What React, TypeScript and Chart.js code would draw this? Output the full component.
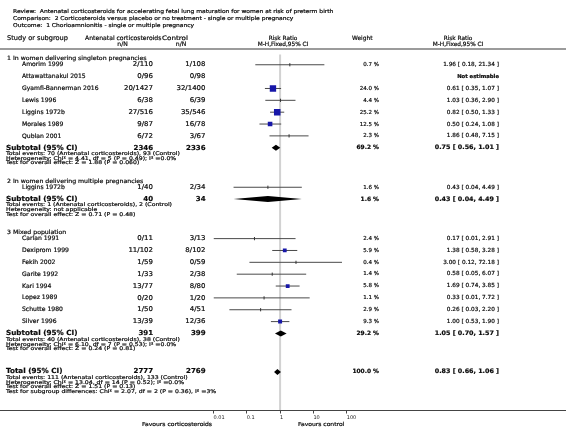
import React, { useEffect, useRef } from 'react';
import { Chart, registerables } from 'chart.js';

Chart.register(...registerables);

// ---------------- data ----------------
const titleLines = [
  'Review:  Antenatal corticosteroids for accelerating fetal lung maturation for women at risk of preterm birth',
  'Comparison:  2 Corticosteroids versus placebo or no treatment - single or multiple pregnancy',
  'Outcome:  1 Chorioamnionitis - single or multiple pregnancy',
];

const groupTitles = [
  '1 In women delivering singleton pregnancies',
  '2 In women delivering multiple pregnancies',
  '3 Mixed population',
];

const studyNames = [
  'Amorim 1999', 'Attawattanakul 2015', 'Gyamfi-Bannerman 2016', 'Lewis 1996', 'Liggins 1972b',
  'Morales 1989', 'Qublan 2001',
  'Liggins 1972b',
  'Carlan 1991', 'Dexiprom 1999', 'Fekih 2002', 'Garite 1992', 'Kari 1994', 'Lopez 1989',
  'Schutte 1980', 'Silver 1996',
];
const studyGroup = [0, 0, 0, 0, 0, 0, 0, 1, 2, 2, 2, 2, 2, 2, 2, 2];
const expEvents = [2, 0, 20, 6, 27, 9, 6, 1, 0, 11, 1, 1, 13, 0, 1, 13];
const expTotal = [110, 96, 1427, 38, 516, 87, 72, 40, 11, 102, 59, 33, 77, 20, 50, 39];
const ctrlEvents = [1, 0, 32, 6, 35, 16, 3, 2, 3, 8, 0, 2, 8, 1, 4, 12];
const ctrlTotal = [108, 98, 1400, 39, 546, 78, 67, 34, 13, 102, 59, 38, 80, 20, 51, 36];
const weights = [0.7, null, 24.0, 4.4, 25.2, 12.5, 2.3, 1.6, 2.4, 5.9, 0.4, 1.4, 5.8, 1.1, 2.9, 9.3];
const riskRatios = [1.96, null, 0.61, 1.03, 0.82, 0.5, 1.86, 0.43, 0.17, 1.38, 3.0, 0.58, 1.69, 0.33, 0.26, 1.0];
const ciLow = [0.18, null, 0.35, 0.36, 0.5, 0.24, 0.48, 0.04, 0.01, 0.58, 0.12, 0.05, 0.74, 0.01, 0.03, 0.53];
const ciHigh = [21.34, null, 1.07, 2.9, 1.33, 1.08, 7.15, 4.49, 2.91, 3.28, 72.18, 6.07, 3.85, 7.72, 2.2, 1.9];

const subtotalExpN = [2346, 40, 391];
const subtotalCtrlN = [2336, 34, 399];
const subtotalWeight = [69.2, 1.6, 29.2];
const subtotalRR = [0.75, 0.43, 1.05];
const subtotalLow = [0.56, 0.04, 0.7];
const subtotalHigh = [1.01, 4.49, 1.57];
const subtotalNotes = [
  [
    'Total events: 70 (Antenatal corticosteroids), 93 (Control)',
    'Heterogeneity: Chi\u00B2 = 4.41, df = 5 (P = 0.49); I\u00B2 =0.0%',
    'Test for overall effect: Z = 1.88 (P = 0.060)',
  ],
  [
    'Total events: 1 (Antenatal corticosteroids), 2 (Control)',
    'Heterogeneity: not applicable',
    'Test for overall effect: Z = 0.71 (P = 0.48)',
  ],
  [
    'Total events: 40 (Antenatal corticosteroids), 38 (Control)',
    'Heterogeneity: Chi\u00B2 = 6.10, df = 7 (P = 0.53); I\u00B2 =0.0%',
    'Test for overall effect: Z = 0.24 (P = 0.81)',
  ],
];

const totalExpN = 2777;
const totalCtrlN = 2769;
const totalWeight = 100.0;
const totalRR = 0.83;
const totalLow = 0.66;
const totalHigh = 1.06;
const totalNotes = [
  'Total events: 111 (Antenatal corticosteroids), 133 (Control)',
  'Heterogeneity: Chi\u00B2 = 13.04, df = 14 (P = 0.52); I\u00B2 =0.0%',
  'Test for overall effect: Z = 1.51 (P = 0.13)',
  'Test for subgroup differences: Chi\u00B2 = 2.07, df = 2 (P = 0.36), I\u00B2 =3%',
];

const axisTicks = [0.01, 0.1, 1, 10, 100];
const axisTickLabels = ['0.01', '0.1', '1', '10', '100'];
const favoursLeft = 'Favours corticosteroids';
const favoursRight = 'Favours control';

// ---------------- layout (pixel units of the y scale) ----------------
const LAYOUT = {
  firstGroup: 54.3,
  headToStudy: 6,
  studyStep: 12.05,
  studyToSub: 12,
  subToNote: 6.2,
  noteStep: 4.65,
  notesToGroup: 18.3,
  notesToTotal: 23,
  yMax: 410.5,
  headerLine: 49,
  refTop: 50,
};

const crisp = (v: number) => Math.floor(v) + 0.5;

function computeRows() {
  const studyY: number[] = [];
  const groupY: number[] = [];
  const subY: number[] = [];
  const subNoteY: number[][] = [];
  let y = LAYOUT.firstGroup;
  for (let g = 0; g < groupTitles.length; g++) {
    groupY.push(y);
    y += LAYOUT.headToStudy;
    let last = y;
    studyNames.forEach((_, i) => {
      if (studyGroup[i] === g) {
        studyY[i] = y;
        last = y;
        y += LAYOUT.studyStep;
      }
    });
    const s = last + LAYOUT.studyToSub;
    subY.push(s);
    let n = s + LAYOUT.subToNote;
    const notes: number[] = [];
    subtotalNotes[g].forEach(() => {
      notes.push(n);
      n += LAYOUT.noteStep;
    });
    subNoteY.push(notes);
    const lastNote = notes[notes.length - 1];
    y = lastNote + LAYOUT.notesToGroup;
  }
  const lastNote = subNoteY[subNoteY.length - 1][subNoteY[subNoteY.length - 1].length - 1];
  const totY = lastNote + LAYOUT.notesToTotal;
  const totNoteY = totalNotes.map((_, i) => totY + LAYOUT.subToNote + i * LAYOUT.noteStep);
  return { studyY, groupY, subY, subNoteY, totY, totNoteY };
}

const FONT = '"DejaVu Sans", Verdana, sans-serif';
const TEXT = '#0a0a0a';

const fmtRR = (v: number, l: number, h: number) => `${v.toFixed(2)} [ ${l.toFixed(2)}, ${h.toFixed(2)} ]`;
const fmtW = (w: number) => `${w.toFixed(1)} %`;

export default function App() {
  const ref = useRef<HTMLCanvasElement>(null);

  useEffect(() => {
    const rows = computeRows();
    const studyIdx = studyNames.map((_, i) => i).filter((i) => riskRatios[i] !== null);

    const ciSets = studyIdx.map((i) => ({
      type: 'line' as const,
      data: [
        { x: ciLow[i] as number, y: crisp(rows.studyY[i]) },
        { x: ciHigh[i] as number, y: crisp(rows.studyY[i]) },
      ],
      borderColor: '#4a4a4a',
      borderWidth: 1,
      pointRadius: 0,
      order: 5,
    }));

    const pointW = studyIdx.map((i) => weights[i] as number);
    const big = (w: number) => w >= 5;

    const datasets: any[] = [
      {
        type: 'line',
        data: [
          { x: 1, y: LAYOUT.refTop },
          { x: 1, y: LAYOUT.yMax },
        ],
        borderColor: '#d2d2d2',
        borderWidth: 2,
        pointRadius: 0,
        order: 10,
      },
      ...ciSets,
      {
        type: 'scatter',
        data: studyIdx.map((i) => ({ x: riskRatios[i] as number, y: crisp(rows.studyY[i]) })),
        pointStyle: (c: any) => (big(pointW[c.dataIndex]) ? 'rect' : 'line'),
        rotation: (c: any) => (big(pointW[c.dataIndex]) ? 0 : 90),
        pointRadius: (c: any) => {
          const w = pointW[c.dataIndex];
          if (!big(w)) return 1.6;
          const side = Math.max(3.8, 1.3 * Math.sqrt(w));
          return side / Math.SQRT2;
        },
        backgroundColor: '#1717a8',
        borderColor: (c: any) => (big(pointW[c.dataIndex]) ? '#1717a8' : '#333'),
        borderWidth: (c: any) => (big(pointW[c.dataIndex]) ? 0 : 1),
        order: 1,
      },
    ];

    const diamonds = [
      ...subtotalRR.map((v, g) => ({ v, l: subtotalLow[g], h: subtotalHigh[g], y: rows.subY[g] })),
      { v: totalRR, l: totalLow, h: totalHigh, y: rows.totY },
    ];

    const forestPlugin = {
      id: 'forest',
      afterDatasetsDraw(chart: any) {
        const ctx = chart.ctx as CanvasRenderingContext2D;
        const xs = chart.scales.x;
        const ys = chart.scales.y;
        ctx.save();
        ctx.fillStyle = '#000';
        diamonds.forEach((d) => {
          const cy = ys.getPixelForValue(crisp(d.y));
          ctx.beginPath();
          ctx.moveTo(xs.getPixelForValue(d.l), cy);
          ctx.lineTo(xs.getPixelForValue(d.v), cy - 3);
          ctx.lineTo(xs.getPixelForValue(d.h), cy);
          ctx.lineTo(xs.getPixelForValue(d.v), cy + 3);
          ctx.closePath();
          ctx.fill();
        });
        ctx.restore();
      },
      afterDraw(chart: any) {
        const ctx = chart.ctx as CanvasRenderingContext2D;
        const ys = chart.scales.y;
        const W = chart.width;
        const Y = (v: number) => ys.getPixelForValue(v);
        ctx.save();
        // header rule and axis rule (full width)
        ctx.strokeStyle = '#7a7a7a';
        ctx.lineWidth = 1.5;
        ctx.beginPath();
        ctx.moveTo(0, LAYOUT.headerLine);
        ctx.lineTo(W, LAYOUT.headerLine);
        ctx.stroke();
        ctx.strokeStyle = '#444';
        ctx.lineWidth = 1;
        ctx.beginPath();
        ctx.moveTo(0, chart.chartArea.bottom);
        ctx.lineTo(W, chart.chartArea.bottom);
        ctx.stroke();

        ctx.textBaseline = 'middle';
        ctx.fillStyle = TEXT;
        ctx.strokeStyle = TEXT;
        const t = (
          s: string, x: number, y: number, size: number,
          align: CanvasTextAlign = 'left', bold = false, sx = 1,
        ) => {
          ctx.save();
          ctx.font = `${bold ? 'bold ' : ''}${size}px ${FONT}`;
          ctx.textAlign = align;
          ctx.translate(x, y);
          ctx.scale(sx, 1);
          ctx.fillText(s, 0, 0);
          ctx.lineWidth = 0.2;
          ctx.strokeText(s, 0, 0);
          ctx.restore();
        };

        titleLines.forEach((s, i) => t(s, 13, 12 + i * 7, 5.3, 'left', false, 1.13));
        t('Study or subgroup', 7, 38, 6.6);
        t('Antenatal corticosteroids', 85, 38, 6.1);
        t('Control', 162, 38, 6.1, 'left', false, 1.18);
        t('n/N', 122.5, 44.5, 6.1, 'center');
        t('n/N', 181, 44.5, 6.1, 'center');
        t('Risk Ratio', 283, 38, 5.8, 'center');
        t('M-H,Fixed,95% CI', 283, 44.5, 5.8, 'center');
        t('Weight', 352, 38, 5.9);
        t('Risk Ratio', 458, 38, 5.8, 'center');
        t('M-H,Fixed,95% CI', 458, 44.5, 5.8, 'center');

        groupTitles.forEach((s, g) => t(s, 7, Y(rows.groupY[g]), 5.8, 'left', false, 1.07));
        studyNames.forEach((s, i) => {
          const y = Y(rows.studyY[i]);
          t(s, 22, y, 6.1);
          t(`${expEvents[i]}/${expTotal[i]}`, 153, y, 6.6, 'right', false, 1.06);
          t(`${ctrlEvents[i]}/${ctrlTotal[i]}`, 205.5, y, 6.6, 'right', false, 1.06);
          if (riskRatios[i] === null) {
            t('Not estimable', 499, y, 5.3, 'right', true);
          } else {
            t(fmtW(weights[i] as number), 379, y, 5.5, 'right');
            t(fmtRR(riskRatios[i] as number, ciLow[i] as number, ciHigh[i] as number), 499, y, 5.6, 'right', false, 1.03);
          }
        });
        subtotalRR.forEach((v, g) => {
          const y = Y(rows.subY[g]);
          t('Subtotal (95% CI)', 6, y, 7.0, 'left', true, 1.03);
          t(String(subtotalExpN[g]), 153, y, 6.8, 'right', true, 1.03);
          t(String(subtotalCtrlN[g]), 205.5, y, 6.8, 'right', true, 1.03);
          t(fmtW(subtotalWeight[g]), 379, y, 5.9, 'right', true);
          t(fmtRR(v, subtotalLow[g], subtotalHigh[g]), 499, y, 6.2, 'right', true, 1.03);
          subtotalNotes[g].forEach((s, k) => t(s, 6, Y(rows.subNoteY[g][k]), 5.1, 'left', false, 1.21));
        });
        const ty = Y(rows.totY);
        t('Total (95% CI)', 6, ty, 7.0, 'left', true, 1.03);
        t(String(totalExpN), 153, ty, 6.8, 'right', true, 1.03);
        t(String(totalCtrlN), 205.5, ty, 6.8, 'right', true, 1.03);
        t(fmtW(totalWeight), 379, ty, 5.9, 'right', true);
        t(fmtRR(totalRR, totalLow, totalHigh), 499, ty, 6.2, 'right', true, 1.03);
        totalNotes.forEach((s, k) => t(s, 6, Y(rows.totNoteY[k]), 5.1, 'left', false, 1.21));

        const fy = chart.chartArea.bottom + 14.5;
        t(favoursLeft, chart.chartArea.left - 1.5, fy, 5.5, 'right', false, 1.1);
        t(favoursRight, 298, fy, 5.5, 'left', false, 1.1);
        ctx.restore();
      },
    };

    const chart = new Chart(ref.current as HTMLCanvasElement, {
      type: 'scatter',
      data: { datasets },
      options: {
        animation: false,
        responsive: false,
        devicePixelRatio: 1,
        layout: { padding: { left: 213.5, right: 219.3, top: 0, bottom: 0 } },
        plugins: { legend: { display: false }, tooltip: { enabled: false } },
        scales: {
          x: {
            type: 'logarithmic',
            min: 0.01,
            max: 100,
            afterBuildTicks: (s: any) => {
              s.ticks = axisTicks.map((v) => ({ value: v }));
            },
            afterFit: (s: any) => {
              s.height = 431 - LAYOUT.yMax;
            },
            border: { display: false },
            grid: { drawOnChartArea: false, drawTicks: true, tickLength: 3, color: '#444', lineWidth: 1 },
            ticks: {
              autoSkip: false,
              maxRotation: 0,
              align: 'start',
              padding: 1.5,
              color: '#222',
              font: { family: FONT, size: 5.0 },
              callback: (_v: any, i: number) => axisTickLabels[i],
            },
          },
          y: {
            type: 'linear',
            min: 0,
            max: LAYOUT.yMax,
            reverse: true,
            display: false,
          },
        },
      } as any,
      plugins: [forestPlugin],
    });
    return () => chart.destroy();
  }, []);

  return (
    <div style={{ position: 'fixed', left: 0, top: 0, width: 566, height: 431, background: '#fff' }}>
      <canvas ref={ref} width={566} height={431} style={{ width: 566, height: 431, display: 'block' }} />
    </div>
  );
}
